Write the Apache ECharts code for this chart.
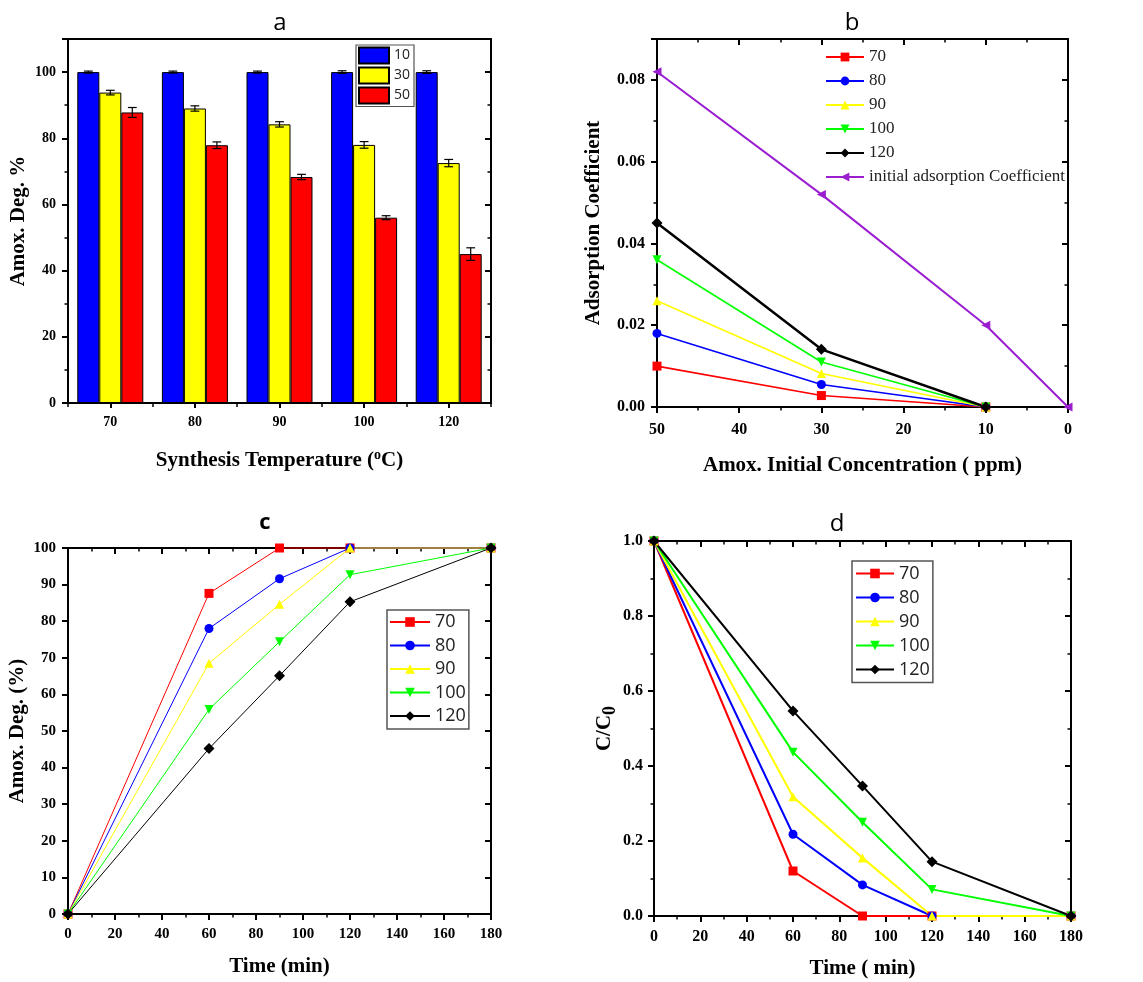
<!DOCTYPE html>
<html>
<head>
<meta charset="utf-8">
<script src="https://cdn.jsdelivr.net/npm/echarts@6/dist/echarts.min.js"></script>
<style>
html,body{margin:0;padding:0;background:#fff;}
#chart{width:1143px;height:982px;}
</style>
</head>
<body>
<div id="chart"></div>
<script>
// ---------- Panel a data ----------
const tempCategories = ['70', '80', '90', '100', '120'];
const concNames = ['10', '30', '50'];
const deg10 = [100, 100, 100, 100, 100];
const deg30 = [93.8, 89.0, 84.2, 78.0, 72.5];
const deg50 = [87.8, 77.9, 68.3, 56.0, 45.0];
const err10 = [0.3, 0.3, 0.3, 0.4, 0.4];
const err30 = [0.7, 0.8, 0.8, 1.0, 1.1];
const err50 = [1.5, 1.0, 0.8, 0.6, 1.9];

// ---------- Panel b data ----------
const concX = [50, 30, 10];
const concXInitial = [50, 30, 10, 0];
const coef70 = [0.010, 0.0028, 0];
const coef80 = [0.018, 0.0055, 0];
const coef90 = [0.026, 0.0082, 0];
const coef100 = [0.036, 0.011, 0];
const coef120 = [0.045, 0.0141, 0];
const coefInitial = [0.082, 0.052, 0.020, 0];
const initialName = 'initial adsorption Coefficient';

// ---------- Panel c data ----------
const timeX = [0, 60, 90, 120, 180];
const deg70t = [0, 87.6, 100, 100, 100];
const deg80t = [0, 78.0, 91.6, 100, 100];
const deg90t = [0, 68.5, 84.6, 100, 100];
const deg100t = [0, 55.9, 74.4, 92.7, 100];
const deg120t = [0, 45.2, 65.1, 85.3, 100];

// ---------- Panel d data ----------
const ratio70 = [1, 0.120, 0, 0, 0];
const ratio80 = [1, 0.218, 0.083, 0, 0];
const ratio90 = [1, 0.318, 0.155, 0, 0];
const ratio100 = [1, 0.437, 0.250, 0.071, 0];
const ratio120 = [1, 0.547, 0.347, 0.145, 0];

const tempNames = ['70', '80', '90', '100', '120'];

// ---------- styles ----------
const SERIF = '"Liberation Serif", "Times New Roman", serif';
const SANS = '"Open Sans", "Liberation Sans", sans-serif';
const COLORS = { '70': '#ff0000', '80': '#0000ff', '90': '#ffff00', '100': '#00ff00', '120': '#000000' };
const SYMBOLS = { '70': 'rect', '80': 'circle', '90': 'triangle', '100': 'triangle', '120': 'diamond' };
const ROTATE = { '70': 0, '80': 0, '90': 0, '100': 180, '120': 0 };
const SIZE_ADJ = { '70': 0, '80': 0, '90': 0, '100': 0, '120': 2 };
const PURPLE = '#9a1ed0';
const BAR_COLORS = ['#0000ff', '#ffff00', '#ff0000'];

const axisLine = { show: true, onZero: false, lineStyle: { color: '#000', width: 2 } };
const tickOut = { show: true, inside: false, length: 6, lineStyle: { color: '#000', width: 2 } };
const tickIn = { show: true, inside: true, length: 6, lineStyle: { color: '#000', width: 2 } };
const minor = { show: true, splitNumber: 2, length: 3.5, lineStyle: { color: '#000', width: 1.5 } };
const noSplit = { show: false };
const nameStyle = (extra) => Object.assign({ fontFamily: SERIF, fontWeight: 'bold', fontSize: 21, color: '#000', lineHeight: 24 }, extra || {});
const labelStyle = (size, margin, fmt, extra) => Object.assign({ fontFamily: SERIF, fontWeight: 'bold', fontSize: size, color: '#000', margin: margin, formatter: fmt }, extra || {});

function mirrorValueAxis(gridIndex, position, min, max, interval, withMinor, inverse) {
  return {
    type: 'value', gridIndex, position, min, max, interval, inverse: !!inverse,
    axisLine, axisTick: tickIn, minorTick: withMinor ? minor : { show: false },
    axisLabel: { show: false }, splitLine: noSplit, minorSplitLine: noSplit
  };
}

const zip = (xs, ys) => xs.map((x, i) => [x, ys[i]]);

// ---------- Panel a series ----------
const barVals = [deg10, deg30, deg50];
const barErrs = [err10, err30, err50];
const CAT_GAP = 0.22;
const barSeries = barVals.map((vals, gi) => ({
  type: 'bar', name: 'a:' + concNames[gi], xAxisIndex: 0, yAxisIndex: 0,
  data: vals, barGap: '0%', barCategoryGap: (CAT_GAP * 100) + '%',
  itemStyle: { color: BAR_COLORS[gi], borderColor: '#000', borderWidth: 1 }
}));
const errSeries = barVals.map((vals, gi) => ({
  type: 'custom', xAxisIndex: 0, yAxisIndex: 0, z: 5, silent: true,
  data: vals.map((v, i) => [i, v, barErrs[gi][i], gi]),
  encode: { x: 0, y: 1 },
  renderItem: function (params, api) {
    const ci = api.value(0), v = api.value(1), e = api.value(2), g = api.value(3);
    const band = api.size([1, 0])[0];
    const bw = band * (1 - CAT_GAP) / 3;
    const cx = api.coord([ci, v])[0] + (g - 1) * bw;
    const yT = api.coord([ci, v + e])[1];
    const yB = api.coord([ci, v - e])[1];
    const hw = bw * 0.2;
    const st = { stroke: '#000', lineWidth: 1.2 };
    return {
      type: 'group', children: [
        { type: 'line', shape: { x1: cx, y1: yT, x2: cx, y2: yB }, style: st },
        { type: 'line', shape: { x1: cx - hw, y1: yT, x2: cx + hw, y2: yT }, style: st },
        { type: 'line', shape: { x1: cx - hw, y1: yB, x2: cx + hw, y2: yB }, style: st }
      ]
    };
  }
}));

// ---------- Panel b series ----------
const coefByTemp = { '70': coef70, '80': coef80, '90': coef90, '100': coef100, '120': coef120 };
const bSeries = tempNames.map(t => ({
  type: 'line', name: 'b:' + t, xAxisIndex: 3, yAxisIndex: 2, clip: false,
  data: zip(concX, coefByTemp[t]),
  symbol: SYMBOLS[t], symbolRotate: ROTATE[t], symbolSize: 9 + SIZE_ADJ[t],
  lineStyle: { color: COLORS[t], width: t === '120' ? 2.5 : 1.6 },
  itemStyle: { color: COLORS[t] }
}));
bSeries.push({
  type: 'line', name: 'b:' + initialName, xAxisIndex: 3, yAxisIndex: 2, clip: false,
  data: zip(concXInitial, coefInitial),
  symbol: 'triangle', symbolRotate: 90, symbolSize: 9,
  lineStyle: { color: PURPLE, width: 2 }, itemStyle: { color: PURPLE }
});

// ---------- Panel c series ----------
const degByTemp = { '70': deg70t, '80': deg80t, '90': deg90t, '100': deg100t, '120': deg120t };
const cSeries = tempNames.map(t => ({
  type: 'line', name: 'c:' + t, xAxisIndex: 5, yAxisIndex: 4, clip: false,
  data: zip(timeX, degByTemp[t]),
  symbol: SYMBOLS[t], symbolRotate: ROTATE[t], symbolSize: 9 + SIZE_ADJ[t],
  lineStyle: { color: COLORS[t], width: 1 }, itemStyle: { color: COLORS[t] }
}));

// ---------- Panel d series ----------
const ratioByTemp = { '70': ratio70, '80': ratio80, '90': ratio90, '100': ratio100, '120': ratio120 };
const dSeries = tempNames.map(t => ({
  type: 'line', name: 'd:' + t, xAxisIndex: 7, yAxisIndex: 6, clip: false,
  data: zip(timeX, ratioByTemp[t]),
  symbol: SYMBOLS[t], symbolRotate: ROTATE[t], symbolSize: 9 + SIZE_ADJ[t],
  lineStyle: { color: COLORS[t], width: 2 }, itemStyle: { color: COLORS[t] }
}));

const stripPrefix = n => n.slice(2);

const option = {
  backgroundColor: '#fff',
  animation: false,
  grid: [
    { left: 68, top: 39, width: 423, height: 364, outerBoundsMode: 'none' },
    { left: 657, top: 39, width: 411, height: 368, outerBoundsMode: 'none' },
    { left: 68, top: 548, width: 423, height: 366, outerBoundsMode: 'none' },
    { left: 654, top: 541, width: 417, height: 375, outerBoundsMode: 'none' }
  ],
  xAxis: [
    // 0: a bottom
    {
      type: 'category', gridIndex: 0, position: 'bottom', data: tempCategories,
      axisLine, axisTick: Object.assign({}, tickOut, { alignWithLabel: true, length: 5 }),
      axisLabel: labelStyle(14, 12),
      name: 'Synthesis Temperature ({s|o}C)', nameLocation: 'middle', nameGap: 45,
      nameTextStyle: nameStyle({ lineHeight: 26, rich: { s: { fontFamily: SERIF, fontWeight: 'bold', fontSize: 14, lineHeight: 12, verticalAlign: 'top', color: '#000' } } }),
      splitLine: noSplit
    },
    // 1: a bottom boundary ticks
    {
      type: 'category', gridIndex: 0, position: 'bottom', data: tempCategories,
      axisLine: { show: false }, axisTick: Object.assign({}, tickOut, { alignWithLabel: false, length: 4, lineStyle: { color: '#000', width: 1.5 } }),
      axisLabel: { show: false }, splitLine: noSplit
    },
    // 2: a top
    {
      type: 'category', gridIndex: 0, position: 'top', data: tempCategories,
      axisLine, axisTick: { show: false }, axisLabel: { show: false }, splitLine: noSplit
    },
    // 3: b bottom
    {
      type: 'value', gridIndex: 1, position: 'bottom', min: 0, max: 50, interval: 10, inverse: true,
      axisLine, axisTick: tickOut, minorTick: minor, splitLine: noSplit, minorSplitLine: noSplit,
      axisLabel: labelStyle(16, 15),
      name: 'Amox. Initial Concentration ( ppm)', nameLocation: 'middle', nameGap: 47,
      nameTextStyle: nameStyle()
    },
    // 4: b top
    mirrorValueAxis(1, 'top', 0, 50, 10, true, true),
    // 5: c bottom
    {
      type: 'value', gridIndex: 2, position: 'bottom', min: 0, max: 180, interval: 20,
      axisLine, axisTick: tickOut, minorTick: minor, splitLine: noSplit, minorSplitLine: noSplit,
      axisLabel: labelStyle(15, 13),
      name: 'Time (min)', nameLocation: 'middle', nameGap: 41,
      nameTextStyle: nameStyle()
    },
    // 6: c top
    mirrorValueAxis(2, 'top', 0, 180, 20, true),
    // 7: d bottom
    {
      type: 'value', gridIndex: 3, position: 'bottom', min: 0, max: 180, interval: 20,
      axisLine, axisTick: tickOut, minorTick: minor, splitLine: noSplit, minorSplitLine: noSplit,
      axisLabel: labelStyle(16, 13),
      name: 'Time ( min)', nameLocation: 'middle', nameGap: 41,
      nameTextStyle: nameStyle()
    },
    // 8: d top
    mirrorValueAxis(3, 'top', 0, 180, 20, true)
  ],
  yAxis: [
    // 0: a left
    {
      type: 'value', gridIndex: 0, position: 'left', min: 0, max: 110, interval: 20,
      axisLine, axisTick: tickOut, minorTick: minor, splitLine: noSplit, minorSplitLine: noSplit,
      axisLabel: labelStyle(14, 12, null, { showMaxLabel: false }),
      name: 'Amox. Deg. %', nameLocation: 'middle', nameGap: 37, nameRotate: 90,
      nameTextStyle: nameStyle()
    },
    // 1: a right
    mirrorValueAxis(0, 'right', 0, 110, 20, true),
    // 2: b left
    {
      type: 'value', gridIndex: 1, position: 'left', min: 0, max: 0.09, interval: 0.02,
      axisLine, axisTick: tickOut, minorTick: minor, splitLine: noSplit, minorSplitLine: noSplit,
      axisLabel: labelStyle(16, 12, v => v.toFixed(2), { showMaxLabel: false }),
      name: 'Adsorption Coefficient', nameLocation: 'middle', nameGap: 51, nameRotate: 90,
      nameTextStyle: nameStyle()
    },
    // 3: b right
    mirrorValueAxis(1, 'right', 0, 0.09, 0.02, true),
    // 4: c left
    {
      type: 'value', gridIndex: 2, position: 'left', min: 0, max: 100, interval: 10,
      axisLine, axisTick: tickOut, splitLine: noSplit,
      axisLabel: labelStyle(15, 12),
      name: 'Amox. Deg. (%)', nameLocation: 'middle', nameGap: 37, nameRotate: 90,
      nameTextStyle: nameStyle()
    },
    // 5: c right
    mirrorValueAxis(2, 'right', 0, 100, 10, false),
    // 6: d left
    {
      type: 'value', gridIndex: 3, position: 'left', min: 0, max: 1, interval: 0.2,
      axisLine, axisTick: tickOut, minorTick: minor, splitLine: noSplit, minorSplitLine: noSplit,
      axisLabel: labelStyle(16, 11, v => v.toFixed(1)),
      name: 'C/C{s|0}', nameLocation: 'middle', nameGap: 35, nameRotate: 90,
      nameTextStyle: nameStyle({ lineHeight: 28, rich: { s: { fontFamily: SERIF, fontWeight: 'bold', fontSize: 18, lineHeight: 16, verticalAlign: 'bottom', color: '#000' } } })
    },
    // 7: d right
    mirrorValueAxis(3, 'right', 0, 1, 0.2, true)
  ],
  legend: [
    {
      data: concNames.map(n => 'a:' + n), formatter: stripPrefix, orient: 'vertical',
      left: 356, top: 45, padding: [1.5, 4, 2, 2], itemWidth: 30, itemHeight: 16, itemGap: 2,
      icon: 'rect', borderColor: '#555', borderWidth: 1.2, backgroundColor: '#fff',
      textStyle: { fontFamily: SANS, fontSize: 14, lineHeight: 16, color: '#222' }
    },
    {
      data: tempNames.map(n => 'b:' + n).concat(['b:' + initialName]), formatter: stripPrefix, orient: 'vertical',
      left: 825, top: 48, padding: 0, itemWidth: 38, itemHeight: 11, itemGap: 6,
      textStyle: { fontFamily: SERIF, fontSize: 17, lineHeight: 18, color: '#222' }
    },
    {
      data: tempNames.map(n => 'c:' + n), formatter: stripPrefix, orient: 'vertical',
      left: 387, top: 610, padding: [2, 3, 3, 2], itemWidth: 40, itemHeight: 12, itemGap: 3.5,
      borderColor: '#555', borderWidth: 1.5, backgroundColor: '#fff',
      textStyle: { fontFamily: SANS, fontSize: 18, lineHeight: 20, color: '#222' }
    },
    {
      data: tempNames.map(n => 'd:' + n), formatter: stripPrefix, orient: 'vertical',
      left: 852, top: 561, padding: [2.5, 3, 3, 3], itemWidth: 38, itemHeight: 12, itemGap: 4,
      borderColor: '#555', borderWidth: 1.5, backgroundColor: '#fff',
      textStyle: { fontFamily: SANS, fontSize: 18, lineHeight: 20, color: '#222' }
    }
  ],
  graphic: [
    { type: 'text', x: 280, y: 23, style: { text: 'a', align: 'center', verticalAlign: 'middle', font: '24px ' + SANS, fill: '#000' } },
    { type: 'text', x: 852, y: 23, style: { text: 'b', align: 'center', verticalAlign: 'middle', font: '24px ' + SANS, fill: '#000' } },
    { type: 'text', x: 265, y: 523, style: { text: 'c', align: 'center', verticalAlign: 'middle', font: 'bold 22px ' + SANS, fill: '#000' } },
    { type: 'text', x: 837, y: 524, style: { text: 'd', align: 'center', verticalAlign: 'middle', font: '24px ' + SANS, fill: '#000' } }
  ],
  series: [].concat(barSeries, errSeries, bSeries, cSeries, dSeries)
};

const chart = echarts.init(document.getElementById('chart'), null, { renderer: 'canvas' });
chart.setOption(option);
</script>
</body>
</html>
